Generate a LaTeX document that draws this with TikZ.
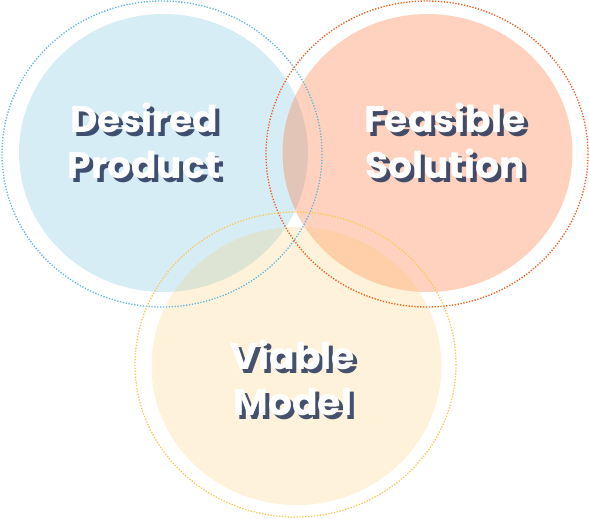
\documentclass[tikz,border=0pt]{standalone}
\usepackage{fontspec}
\setmainfont{Poppins}
\usepackage{xcolor}
\definecolor{productblue}{RGB}{74,173,216}
\definecolor{productdot}{RGB}{100,184,222}
\definecolor{solutionorange}{RGB}{255,106,42}
\definecolor{solutiondot}{RGB}{242,96,30}
\definecolor{modelyellow}{RGB}{249,198,90}
\definecolor{modeldot}{RGB}{252,200,84}
\definecolor{shadowink}{RGB}{36,52,88}

\tikzset{
  blob/.style={fill opacity=0.22},
  ring/.style={line width=1.35pt, dash pattern=on 1.3pt off 1.6pt},
  label/.style={align=center, font=\bfseries\fontsize{37}{46}\selectfont, xscale=1.02},
  labelshadow/.style={label, text=shadowink, text opacity=0.85},
  labeltop/.style={label, text=white}
}

\begin{document}
\begin{tikzpicture}[x=1pt, y=-1pt]
    \useasboundingbox (0,0) rectangle (589,519);

    % Filled circles
    \fill[productblue, blob] (163.5,153) ellipse (144.5 and 139);
    \fill[solutionorange, blob, fill opacity=0.3] (427.5,153) ellipse (145 and 139);
    \fill[modelyellow, blob] (296.5,366) ellipse (145 and 139);

    % Dotted rings
    \draw[productdot, ring] (162,154) ellipse (160 and 153);
    \draw[solutiondot, ring] (427,154) ellipse (161 and 153);
    \draw[modeldot, ring] (295.5,364.5) ellipse (160.5 and 152.5);

    % Labels with shadow
    \node[labelshadow] (productshadow) at (148,145) {Desired\\Product};
    \node[labeltop] (product) at (144,141) {Desired\\Product};
    \node[labelshadow] (solutionshadow) at (449,145) {Feasible\\Solution};
    \node[labeltop] (solution) at (445,141) {Feasible\\Solution};
    \node[labelshadow] (modelshadow) at (297,382) {Viable\\Model};
    \node[labeltop] (model) at (293,378) {Viable\\Model};
\end{tikzpicture}
\end{document}
